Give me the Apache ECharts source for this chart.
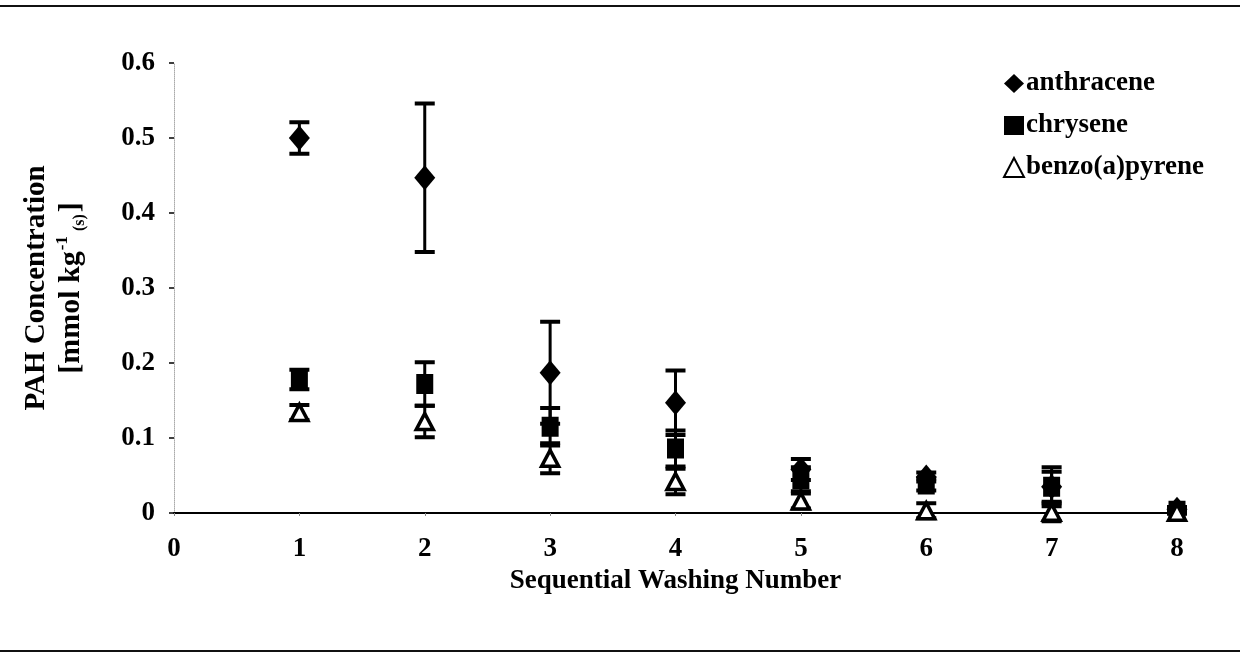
<!DOCTYPE html>
<html>
<head>
<meta charset="utf-8">
<script src="https://cdn.jsdelivr.net/npm/echarts@6/dist/echarts.min.js"></script>
<style>html,body{margin:0;padding:0;background:#fff}#c{width:1240px;height:660px}</style>
</head>
<body>
<div id="c"></div>
<script>
const washNumbers = [1, 2, 3, 4, 5, 6, 7, 8];
const anthracene = [0.500, 0.447, 0.187, 0.147, 0.058, 0.048, 0.035, 0.005];
const anthraceneErr = [0.021, 0.099, 0.068, 0.043, 0.014, 0.006, 0.020, 0.003];
const chrysene = [0.178, 0.172, 0.115, 0.086, 0.045, 0.038, 0.035, 0.003];
const chryseneErr = [0.013, 0.029, 0.025, 0.024, 0.016, 0.008, 0.026, 0.002];
const benzopyrene = [0.134, 0.122, 0.073, 0.042, 0.016, 0.003, 0.001, 0.001];
const benzopyreneErr = [0.010, 0.021, 0.020, 0.017, 0.010, 0.010, 0.012, 0.002];
const xTicks = [0, 1, 2, 3, 4, 5, 6, 7, 8];
const yTicks = [0, 0.1, 0.2, 0.3, 0.4, 0.5, 0.6];

const FONT = '"Liberation Serif", "DejaVu Serif", serif';

function pts(vals) { return washNumbers.map((x, i) => [x, vals[i]]); }
function errs(vals, e) { return washNumbers.map((x, i) => [x, vals[i] - e[i], vals[i] + e[i]]); }

function errRender(params, api) {
  const x = api.value(0);
  const lo = api.coord([x, api.value(1)]);
  const hi = api.coord([x, api.value(2)]);
  const hw = 10;
  return {
    type: 'group',
    children: [
      { type: 'line', shape: { x1: lo[0], y1: lo[1], x2: hi[0], y2: hi[1] }, style: { stroke: '#000', lineWidth: 3 } },
      { type: 'line', shape: { x1: lo[0] - hw, y1: lo[1], x2: lo[0] + hw, y2: lo[1] }, style: { stroke: '#000', lineWidth: 4 } },
      { type: 'line', shape: { x1: hi[0] - hw, y1: hi[1], x2: hi[0] + hw, y2: hi[1] }, style: { stroke: '#000', lineWidth: 4 } }
    ]
  };
}

const chart = echarts.init(document.getElementById('c'), null, { renderer: 'canvas' });
chart.setOption({
  animation: false,
  backgroundColor: '#fff',
  textStyle: { fontFamily: FONT },
  graphic: [
    { type: 'line', shape: { x1: 0, y1: 6, x2: 1240, y2: 6 }, style: { stroke: '#111', lineWidth: 2 } },
    { type: 'line', shape: { x1: 0, y1: 651, x2: 1240, y2: 651 }, style: { stroke: '#111', lineWidth: 2 } }
  ],
  grid: { left: 174, right: 63, top: 63, bottom: 147 },
  legend: {
    orient: 'vertical',
    left: 998,
    top: 65,
    itemWidth: 20,
    itemHeight: 19,
    itemGap: 15,
    textStyle: { fontFamily: FONT, fontWeight: 'bold', fontSize: 27, color: '#000', padding: [0, 0, 0, -3] },
    data: ['anthracene', 'chrysene', 'benzo(a)pyrene']
  },
  xAxis: {
    type: 'value',
    min: xTicks[0],
    max: xTicks[xTicks.length - 1],
    interval: 1,
    name: 'Sequential Washing Number',
    nameLocation: 'middle',
    nameGap: 53,
    nameTextStyle: { fontFamily: FONT, fontWeight: 'bold', fontSize: 27, color: '#000' },
    axisLine: { onZero: false, lineStyle: { color: '#000', width: 2 } },
    axisTick: { show: true, length: 3, lineStyle: { color: '#888' } },
    axisLabel: { margin: 23, fontFamily: FONT, fontWeight: 'bold', fontSize: 27, color: '#000' },
    splitLine: { show: false }
  },
  yAxis: {
    type: 'value',
    min: yTicks[0],
    max: yTicks[yTicks.length - 1],
    interval: 0.1,
    name: '{a|PAH Concentration}\n{b|[mmol kg}{sup|-1}{sub| (s)}{b|]}',
    nameLocation: 'middle',
    nameGap: 86,
    nameRotate: 90,
    nameTextStyle: {
      fontFamily: FONT, fontWeight: 'bold', fontSize: 28, color: '#000', lineHeight: 34,
      rich: {
        a: { fontFamily: FONT, fontWeight: 'bold', fontSize: 29, color: '#000', lineHeight: 34 },
        b: { fontFamily: FONT, fontWeight: 'bold', fontSize: 30, color: '#000', lineHeight: 34 },
        sup: { fontFamily: FONT, fontWeight: 'bold', fontSize: 17, color: '#000', verticalAlign: 'top', lineHeight: 34, padding: [0, 1, 0, 1] },
        sub: { fontFamily: FONT, fontWeight: 'bold', fontSize: 16, color: '#000', verticalAlign: 'bottom', lineHeight: 28, padding: [12, 2, 0, 0] }
      }
    },
    axisLine: { show: true, lineStyle: { color: '#aaa', width: 1, type: 'dotted' } },
    axisTick: { show: true, length: 5, lineStyle: { color: '#000', width: 1.5 } },
    axisLabel: {
      margin: 19, fontFamily: FONT, fontWeight: 'bold', fontSize: 27, color: '#000',
      formatter: v => (Math.round(v * 10) / 10).toString()
    },
    splitLine: { show: false }
  },
  series: [
    { name: 'anthracene-err', type: 'custom', renderItem: errRender, data: errs(anthracene, anthraceneErr), z: 2, silent: true },
    { name: 'chrysene-err', type: 'custom', renderItem: errRender, data: errs(chrysene, chryseneErr), z: 2, silent: true },
    { name: 'benzo-err', type: 'custom', renderItem: errRender, data: errs(benzopyrene, benzopyreneErr), z: 2, silent: true },
    {
      name: 'anthracene', type: 'scatter', symbol: 'diamond', symbolSize: [21, 25],
      itemStyle: { color: '#000', opacity: 1 }, data: pts(anthracene), z: 3
    },
    {
      name: 'chrysene', type: 'scatter', symbol: 'rect', symbolSize: [17, 20],
      itemStyle: { color: '#000', opacity: 1 }, data: pts(chrysene), z: 4
    },
    {
      name: 'benzo(a)pyrene', type: 'scatter', symbol: 'triangle', symbolSize: [17, 16],
      itemStyle: { color: '#fff', borderColor: '#000', borderWidth: 3.5, opacity: 1 }, data: pts(benzopyrene), z: 5
    }
  ]
});
</script>
</body>
</html>
